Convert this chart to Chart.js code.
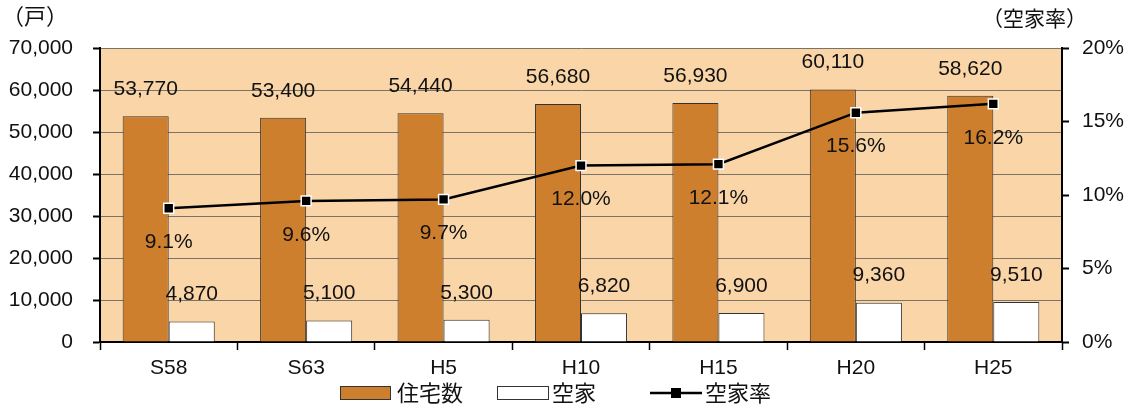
<!DOCTYPE html>
<html lang="ja">
<head>
<meta charset="utf-8">
<script src="https://cdn.jsdelivr.net/npm/chart.js@4/dist/chart.umd.min.js"></script>
<style>
  html, body { margin: 0; padding: 0; background: #fff; }
  #wrap { width: 1129px; height: 407px; position: relative; }
</style>
</head>
<body>
<div id="wrap"><canvas id="c" width="1129" height="407"></canvas></div>
<script>
// 住宅数・空家数・空家率の推移
const years = ['S58', 'S63', 'H5', 'H10', 'H15', 'H20', 'H25'];
const housing = [53770, 53400, 54440, 56680, 56930, 60110, 58620];
const vacant = [4870, 5100, 5300, 6820, 6900, 9360, 9510];
const vacancyRate = [9.1, 9.6, 9.7, 12.0, 12.1, 15.6, 16.2];
const leftTicks = [0, 10000, 20000, 30000, 40000, 50000, 60000, 70000];
const rightTicks = [0, 5, 10, 15, 20];

const NUM_FONT = '"Liberation Sans", Arial, sans-serif';
const JP_FONT = '"Noto Sans CJK JP", "Noto Sans", sans-serif';
const BAR_COLOR = '#CD7F2D';
const PLOT_BG = '#F9D5A7';

const fmt = v => v.toLocaleString('en-US');

// 描画領域の背景色
const plotBackground = {
  id: 'plotBackground',
  beforeDraw(chart) {
    const { ctx, chartArea: a } = chart;
    ctx.save();
    ctx.fillStyle = PLOT_BG;
    ctx.fillRect(a.left, a.top, a.right - a.left, a.bottom - a.top);
    ctx.restore();
  }
};

// 棒・折れ線の値ラベル
const valueLabels = {
  id: 'valueLabels',
  afterDatasetsDraw(chart) {
    const { ctx } = chart;
    ctx.save();
    ctx.fillStyle = '#111';
    ctx.font = '21px ' + NUM_FONT;
    ctx.textAlign = 'center';
    ctx.textBaseline = 'middle';
    [0, 1].forEach(di => {
      const meta = chart.getDatasetMeta(di);
      meta.data.forEach((el, i) => {
        const v = chart.data.datasets[di].data[i];
        ctx.fillText(fmt(v), el.x, el.y - 27);
      });
    });
    const lm = chart.getDatasetMeta(2);
    lm.data.forEach((el, i) => {
      const v = chart.data.datasets[2].data[i];
      ctx.fillText(v.toFixed(1) + '%', el.x, el.y + 34);
    });
    ctx.restore();
  }
};

// 単位表記と凡例
const extras = {
  id: 'extras',
  afterDraw(chart) {
    const { ctx } = chart;
    ctx.save();
    ctx.fillStyle = '#111';
    ctx.textBaseline = 'middle';
    ctx.font = '22px ' + JP_FONT;
    ctx.textAlign = 'left';
    ctx.fillText('（戸）', 2, 16);
    ctx.font = '21px ' + JP_FONT;
    ctx.fillText('（空家率）', 982, 18);

    const ly = 393;
    ctx.font = '22px ' + JP_FONT;
    // 住宅数
    ctx.fillStyle = BAR_COLOR;
    ctx.strokeStyle = '#333';
    ctx.lineWidth = 1;
    ctx.fillRect(340.5, 386.5, 50, 13);
    ctx.strokeRect(340.5, 386.5, 50, 13);
    ctx.fillStyle = '#111';
    ctx.fillText('住宅数', 397, ly);
    // 空家
    ctx.fillStyle = '#fff';
    ctx.fillRect(497.5, 386.5, 51, 13);
    ctx.strokeRect(497.5, 386.5, 51, 13);
    ctx.fillStyle = '#111';
    ctx.fillText('空家', 552, ly);
    // 空家率
    ctx.strokeStyle = '#000';
    ctx.lineWidth = 2.5;
    ctx.beginPath();
    ctx.moveTo(650, ly);
    ctx.lineTo(702, ly);
    ctx.stroke();
    ctx.fillStyle = '#000';
    ctx.fillRect(671, ly - 5, 10, 10);
    ctx.fillStyle = '#111';
    ctx.fillText('空家率', 705, ly);
    ctx.restore();
  }
};

new Chart(document.getElementById('c'), {
  data: {
    labels: years,
    datasets: [
      {
        type: 'bar', label: '住宅数', data: housing, yAxisID: 'y',
        backgroundColor: BAR_COLOR, borderColor: '#333', borderWidth: 1,
        categoryPercentage: 0.67, barPercentage: 1.0, order: 2
      },
      {
        type: 'bar', label: '空家', data: vacant, yAxisID: 'y',
        backgroundColor: '#fff', borderColor: '#333', borderWidth: 1,
        categoryPercentage: 0.67, barPercentage: 1.0, order: 2
      },
      {
        type: 'line', label: '空家率', data: vacancyRate, yAxisID: 'y1',
        borderColor: '#000', borderWidth: 2.5, tension: 0,
        pointStyle: 'rect', pointRadius: 7, pointBackgroundColor: '#000',
        pointBorderColor: '#fff', pointBorderWidth: 1.5, order: 1
      }
    ]
  },
  options: {
    responsive: false,
    animation: false,
    events: [],
    layout: { padding: { top: 48, right: 0, left: 0, bottom: 0 } },
    plugins: { legend: { display: false }, tooltip: { enabled: false } },
    scales: {
      x: {
        offset: true,
        grid: { offset: true, drawOnChartArea: false, tickColor: '#000', tickLength: 8, tickWidth: 1.5 },
        border: { color: '#000', width: 2 },
        ticks: { color: '#111', font: { family: NUM_FONT, size: 21 }, padding: 6 },
        afterFit(s) { s.height = 65; }
      },
      y: {
        position: 'left', min: 0, max: 70000,
        afterBuildTicks(s) { s.ticks = leftTicks.map(v => ({ value: v })); },
        grid: { color: '#7a7468', lineWidth: 1, tickColor: '#000', tickLength: 7, tickWidth: 2 },
        border: { color: '#000', width: 2 },
        ticks: { color: '#111', font: { family: NUM_FONT, size: 21 }, padding: 20, callback: v => fmt(v) },
        afterFit(s) { s.width = 100; }
      },
      y1: {
        position: 'right', min: 0, max: 20,
        afterBuildTicks(s) { s.ticks = rightTicks.map(v => ({ value: v })); },
        grid: { drawOnChartArea: false, tickColor: '#000', tickLength: 7, tickWidth: 2 },
        border: { color: '#000', width: 2 },
        ticks: { color: '#111', font: { family: NUM_FONT, size: 21 }, padding: 13, callback: v => v + '%' },
        afterFit(s) { s.width = 67; }
      }
    }
  },
  plugins: [plotBackground, valueLabels, extras]
});
</script>
</body>
</html>
